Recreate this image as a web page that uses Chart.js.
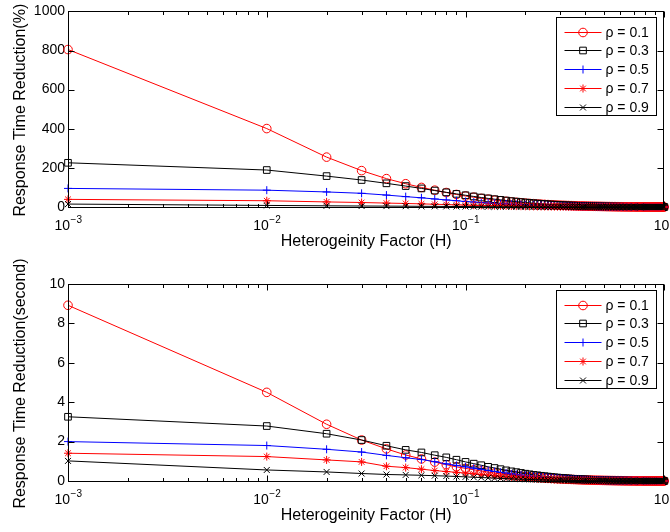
<!DOCTYPE html>
<html>
<head>
<meta charset="utf-8">
<script src="https://cdn.jsdelivr.net/npm/chart.js@4.4.1/dist/chart.umd.min.js"></script>
<style>
  body { margin: 0; background: #fff; }
  .panel { position: absolute; left: 0; width: 670px; }
</style>
</head>
<body>
<div class="panel" style="top:0;height:262px"><canvas id="pctChart" width="670" height="262"></canvas></div>
<!-- canvases are transparent, so the lower one may overlap the upper one -->
<div class="panel" style="top:236px;height:296px"><canvas id="secChart" width="670" height="296"></canvas></div>
<script>
// heterogeneity factor H (x axis, log scale)
const H = [0.001,
  0.01,0.02,0.03,0.04,0.05,0.06,0.07,0.08,0.09,0.10,
  0.11,0.12,0.13,0.14,0.15,0.16,0.17,0.18,0.19,0.20,
  0.21,0.22,0.23,0.24,0.25,0.26,0.27,0.28,0.29,0.30,
  0.31,0.32,0.33,0.34,0.35,0.36,0.37,0.38,0.39,0.40,
  0.41,0.42,0.43,0.44,0.45,0.46,0.47,0.48,0.49,0.50,
  0.51,0.52,0.53,0.54,0.55,0.56,0.57,0.58,0.59,0.60,
  0.61,0.62,0.63,0.64,0.65,0.66,0.67,0.68,0.69,0.70,
  0.71,0.72,0.73,0.74,0.75,0.76,0.77,0.78,0.79,0.80,
  0.81,0.82,0.83,0.84,0.85,0.86,0.87,0.88,0.89,0.90,
  0.91,0.92,0.93,0.94,0.95,0.96,0.97,0.98,0.99,1.00];

const rhoLabels = ['ρ = 0.1', 'ρ = 0.3', 'ρ = 0.5', 'ρ = 0.7', 'ρ = 0.9'];

// response time reduction in percent
const pctRho01 = [805,401,255,186,145,119,100,86,74,64,56,
  50,44,40,35,32,29,26,24,22,20,
  18.4,17,15.7,14.5,13.4,12.4,11.5,10.7,9.9,9.2,
  8.6,8,7.5,7,6.5,6.1,5.7,5.3,5,4.7,
  4.4,4.1,3.9,3.6,3.4,3.2,3,2.8,2.6,2.5,
  2.3,2.2,2.1,1.9,1.8,1.7,1.6,1.5,1.4,1.3,
  1.2,1.1,1.06,0.99,0.92,0.86,0.8,0.74,0.69,0.64,
  0.59,0.55,0.5,0.46,0.43,0.39,0.36,0.33,0.3,0.27,
  0.25,0.22,0.2,0.18,0.16,0.14,0.12,0.1,0.09,0.07,
  0.06,0.05,0.04,0.03,0.02,0.015,0.01,0.005,0.002,0];
const pctRho03 = [226,189,158,138,121,107,95,84,75,67,60,
  54,48.5,44,40,36.5,33,30,27.5,25,23,
  21,19.3,17.8,16.4,15.1,13.9,12.8,11.8,10.9,10.1,
  9.3,8.6,8,7.4,6.9,6.4,5.9,5.5,5.1,4.8,
  4.4,4.1,3.8,3.6,3.3,3.1,2.9,2.7,2.5,2.3,
  2.2,2,1.9,1.8,1.7,1.6,1.5,1.4,1.3,1.2,
  1.1,1.03,0.96,0.89,0.83,0.77,0.71,0.66,0.61,0.57,
  0.52,0.48,0.44,0.41,0.37,0.34,0.31,0.28,0.26,0.23,
  0.21,0.19,0.17,0.15,0.13,0.12,0.1,0.09,0.07,0.06,
  0.05,0.04,0.03,0.025,0.02,0.013,0.008,0.004,0.002,0];
const pctRho05 = [95,86,77,70,61,53,47,41,36,32,28,
  25,22.5,20.3,18.4,16.7,15.2,13.9,12.7,11.6,10.6,
  9.7,8.9,8.2,7.5,6.9,6.4,5.9,5.4,5,4.6,
  4.3,4,3.7,3.4,3.2,2.9,2.7,2.5,2.4,2.2,
  2.05,1.9,1.8,1.65,1.55,1.45,1.35,1.25,1.17,1.1,
  1.02,0.95,0.89,0.83,0.78,0.73,0.68,0.63,0.59,0.55,
  0.51,0.48,0.44,0.41,0.38,0.35,0.33,0.3,0.28,0.26,
  0.24,0.22,0.2,0.18,0.17,0.15,0.14,0.13,0.11,0.1,
  0.09,0.08,0.07,0.065,0.055,0.05,0.04,0.035,0.03,0.025,
  0.02,0.016,0.013,0.01,0.008,0.006,0.004,0.002,0.001,0];
const pctRho07 = [39,32,26,23,20,18,16,14,12.5,11,10,
  9,8.1,7.3,6.6,6,5.4,4.9,4.5,4.1,3.7,
  3.4,3.1,2.9,2.6,2.4,2.2,2.1,1.9,1.8,1.6,
  1.5,1.4,1.3,1.2,1.1,1.05,0.97,0.9,0.85,0.8,
  0.74,0.69,0.64,0.6,0.56,0.52,0.48,0.45,0.42,0.39,
  0.37,0.34,0.32,0.3,0.28,0.26,0.24,0.23,0.21,0.2,
  0.18,0.17,0.16,0.15,0.14,0.13,0.12,0.11,0.1,0.09,
  0.085,0.078,0.071,0.065,0.06,0.055,0.05,0.045,0.04,0.036,
  0.032,0.028,0.025,0.022,0.019,0.016,0.014,0.012,0.01,0.008,
  0.007,0.006,0.005,0.004,0.003,0.002,0.0015,0.001,0.0005,0];
const pctRho09 = [15,8,6,5,4.5,4,3.5,3.2,2.9,2.6,2.3,
  2.1,1.9,1.7,1.5,1.4,1.25,1.15,1.05,0.95,0.87,
  0.8,0.73,0.67,0.62,0.57,0.52,0.48,0.44,0.41,0.38,
  0.35,0.33,0.31,0.29,0.27,0.25,0.23,0.22,0.2,0.19,
  0.18,0.17,0.16,0.15,0.14,0.13,0.12,0.11,0.1,0.09,
  0.085,0.08,0.075,0.07,0.065,0.06,0.056,0.052,0.048,0.045,
  0.042,0.039,0.036,0.034,0.031,0.029,0.027,0.025,0.023,0.021,
  0.019,0.018,0.016,0.015,0.014,0.012,0.011,0.01,0.009,0.008,
  0.007,0.0065,0.006,0.005,0.0045,0.004,0.0035,0.003,0.0025,0.002,
  0.0018,0.0015,0.0012,0.001,0.0008,0.0006,0.0004,0.0002,0.0001,0];

// response time reduction in seconds
const secRho01 = [8.92,4.5,2.88,2.08,1.63,1.32,1.12,0.96,0.83,0.72,0.64,
  0.57,0.51,0.45,0.4,0.36,0.33,0.3,0.27,0.25,0.23,
  0.21,0.19,0.18,0.165,0.153,0.142,0.132,0.122,0.113,0.105,
  0.098,0.092,0.086,0.08,0.075,0.07,0.065,0.061,0.057,0.054,
  0.05,0.047,0.044,0.041,0.039,0.036,0.034,0.032,0.03,0.028,
  0.027,0.025,0.024,0.022,0.021,0.019,0.018,0.017,0.016,0.015,
  0.014,0.013,0.012,0.011,0.0105,0.0098,0.0091,0.0085,0.0079,0.0073,
  0.0067,0.0062,0.0057,0.0053,0.0049,0.0045,0.0041,0.0038,0.0034,0.0031,
  0.0028,0.0025,0.0023,0.002,0.0018,0.0016,0.0014,0.0012,0.001,0.0008,
  0.0007,0.0006,0.0005,0.0004,0.0003,0.0002,0.00015,0.0001,0.00005,0];
const secRho03 = [3.26,2.79,2.4,2.08,1.79,1.58,1.45,1.31,1.2,1.08,0.97,
  0.88,0.8,0.72,0.66,0.6,0.54,0.49,0.45,0.41,0.37,
  0.34,0.31,0.29,0.265,0.245,0.225,0.207,0.19,0.176,0.163,
  0.151,0.14,0.13,0.12,0.111,0.103,0.096,0.089,0.083,0.077,
  0.072,0.067,0.062,0.058,0.054,0.05,0.046,0.043,0.04,0.037,
  0.035,0.032,0.03,0.028,0.026,0.024,0.022,0.021,0.019,0.018,
  0.017,0.016,0.015,0.014,0.013,0.012,0.011,0.01,0.0095,0.0088,
  0.0081,0.0074,0.0068,0.0062,0.0057,0.0052,0.0047,0.0043,0.0039,0.0035,
  0.0031,0.0028,0.0025,0.0022,0.0019,0.0017,0.0015,0.0013,0.0011,0.0009,
  0.0008,0.0006,0.0005,0.0004,0.0003,0.0002,0.00015,0.0001,0.00005,0];
const secRho05 = [2,1.8,1.61,1.47,1.3,1.18,1.09,0.98,0.87,0.79,0.72,
  0.65,0.59,0.53,0.48,0.44,0.4,0.36,0.33,0.3,0.28,
  0.255,0.235,0.215,0.198,0.183,0.169,0.156,0.144,0.133,0.123,
  0.114,0.106,0.098,0.091,0.085,0.079,0.073,0.068,0.064,0.06,
  0.056,0.052,0.049,0.046,0.043,0.04,0.038,0.035,0.033,0.031,
  0.029,0.027,0.026,0.024,0.023,0.021,0.02,0.019,0.018,0.017,
  0.016,0.015,0.014,0.013,0.012,0.011,0.01,0.0095,0.0088,0.0081,
  0.0075,0.0069,0.0063,0.0058,0.0053,0.0049,0.0045,0.0041,0.0037,0.0034,
  0.0031,0.0028,0.0025,0.0022,0.002,0.0017,0.0015,0.0013,0.0011,0.0009,
  0.0008,0.0007,0.0006,0.0005,0.0004,0.0003,0.0002,0.0001,0.00005,0];
const secRho07 = [1.41,1.24,1.07,0.97,0.75,0.68,0.6,0.53,0.48,0.44,0.4,
  0.36,0.33,0.3,0.27,0.245,0.22,0.2,0.185,0.17,0.155,
  0.142,0.13,0.12,0.11,0.101,0.093,0.086,0.079,0.073,0.068,
  0.063,0.058,0.054,0.05,0.047,0.044,0.041,0.038,0.036,0.034,
  0.031,0.029,0.027,0.026,0.024,0.022,0.021,0.02,0.019,0.018,
  0.017,0.016,0.015,0.014,0.013,0.012,0.011,0.0105,0.0098,0.0092,
  0.0086,0.008,0.0075,0.007,0.0065,0.006,0.0056,0.0052,0.0048,0.0045,
  0.0042,0.0039,0.0036,0.0033,0.003,0.0028,0.0026,0.0024,0.0022,0.002,
  0.0018,0.0016,0.0014,0.0013,0.0011,0.001,0.0009,0.0008,0.0007,0.0006,
  0.0005,0.0004,0.0003,0.00025,0.0002,0.00015,0.0001,0.00006,0.00003,0];
const secRho09 = [1.02,0.56,0.46,0.38,0.33,0.31,0.29,0.27,0.25,0.23,0.21,
  0.19,0.175,0.16,0.145,0.132,0.12,0.11,0.1,0.092,0.085,
  0.078,0.072,0.066,0.061,0.056,0.052,0.048,0.044,0.041,0.038,
  0.035,0.033,0.031,0.029,0.027,0.025,0.023,0.022,0.02,0.019,
  0.018,0.017,0.016,0.015,0.014,0.013,0.012,0.011,0.0105,0.0098,
  0.0092,0.0086,0.008,0.0075,0.007,0.0065,0.006,0.0056,0.0052,0.0048,
  0.0045,0.0042,0.0039,0.0036,0.0033,0.0031,0.0029,0.0027,0.0025,0.0023,
  0.0021,0.0019,0.0018,0.0016,0.0015,0.0014,0.0013,0.0012,0.0011,0.001,
  0.0009,0.0008,0.0007,0.00065,0.0006,0.0005,0.00045,0.0004,0.00035,0.0003,
  0.00025,0.0002,0.00018,0.00015,0.00012,0.0001,0.00008,0.00005,0.00002,0];

const decadeTicks = [0.001, 0.01, 0.1, 1];
const decadeExps = ['\u22123', '\u22122', '\u22121', '0'];

const FONT = '"Liberation Sans", Arial, Helvetica, sans-serif';

// marker/colour per rho, in the same order as rhoLabels
const styles = [
  { color: '#ff0000', pointStyle: 'circle', radius: 4.3 },
  { color: '#000000', pointStyle: 'rect', radius: 4.7 },
  { color: '#0000ff', pointStyle: 'cross', radius: 4 },
  { color: '#ff0000', pointStyle: 'star', radius: 4 },
  { color: '#000000', pointStyle: 'crossRot', radius: 4.2 }
];

function buildDatasets(series) {
  return series.map((vals, i) => ({
    label: rhoLabels[i],
    data: H.map((h, j) => ({ x: h, y: vals[j] })),
    borderColor: styles[i].color,
    backgroundColor: 'rgba(0,0,0,0)',
    borderWidth: 1,
    pointStyle: styles[i].pointStyle,
    pointRadius: styles[i].radius,
    pointBorderWidth: 1,
    pointBorderColor: styles[i].color,
    pointBackgroundColor: 'rgba(0,0,0,0)',
    clip: false,
    // later rho drawn on top
    order: series.length - i
  }));
}

// box, inward ticks, log tick labels, axis titles and legend
const matlabAxes = {
  id: 'matlabAxes',
  afterDatasetsDraw(chart, args, opts) {
    const ctx = chart.ctx;
    const a = chart.chartArea;
    const xs = chart.scales.x, ys = chart.scales.y;
    const L = Math.round(a.left) + 0.5, R = Math.round(a.right) - 0.5;
    const T = Math.round(a.top) + 0.5, B = Math.round(a.bottom) + 0.5;
    ctx.save();
    ctx.strokeStyle = '#000';
    ctx.lineWidth = 1;
    ctx.beginPath();
    // x ticks, top and bottom
    for (let e = -3; e <= 0; e++) {
      const dec = Math.pow(10, e);
      const px = Math.round(xs.getPixelForValue(dec)) + 0.5;
      ctx.moveTo(px, B); ctx.lineTo(px, B - 6);
      ctx.moveTo(px, T); ctx.lineTo(px, T + 6);
      if (e < 0) {
        for (let m = 2; m <= 9; m++) {
          const p = Math.round(xs.getPixelForValue(m * dec)) + 0.5;
          ctx.moveTo(p, B); ctx.lineTo(p, B - 3.5);
          ctx.moveTo(p, T); ctx.lineTo(p, T + 3.5);
        }
      }
    }
    // y ticks, left and right
    ys.ticks.forEach(t => {
      const py = Math.round(ys.getPixelForValue(t.value)) + 0.5;
      ctx.moveTo(L, py); ctx.lineTo(L + 6, py);
      ctx.moveTo(R, py); ctx.lineTo(R - 6, py);
    });
    ctx.stroke();
    ctx.strokeRect(L, T, R - L, B - T);

    // legend box
    const lw = 100, lh = 98;
    const lx = Math.round(a.right - 8 - lw) + 0.5, ly = Math.round(a.top + 6) + 0.5;
    ctx.fillStyle = '#fff';
    ctx.fillRect(lx, ly, lw, lh);
    ctx.strokeRect(lx, ly, lw, lh);
    ctx.font = '14px ' + FONT;
    ctx.textBaseline = 'middle';
    ctx.textAlign = 'left';
    chart.data.datasets.forEach((ds, i) => {
      const ry = Math.round(ly + 14 + i * 18.8) + 0.5;
      ctx.strokeStyle = ds.borderColor;
      ctx.beginPath();
      ctx.moveTo(lx + 8, ry); ctx.lineTo(lx + 45, ry);
      ctx.stroke();
      ctx.fillStyle = 'rgba(0,0,0,0)';
      Chart.helpers.drawPoint(ctx, {
        pointStyle: ds.pointStyle, radius: ds.pointRadius, rotation: 0, borderWidth: 1
      }, lx + 26.5, ry);
      ctx.fillStyle = '#000';
      ctx.fillText(ds.label, lx + 49, ry + 1);
    });
    ctx.restore();
  },
  afterDraw(chart, args, opts) {
    const ctx = chart.ctx;
    const a = chart.chartArea;
    const xs = chart.scales.x;
    ctx.save();
    ctx.fillStyle = '#000';
    // 10^n labels under the decades
    const base = a.bottom + 23;
    decadeTicks.forEach((v, i) => {
      const px = xs.getPixelForValue(v);
      ctx.font = '14px ' + FONT;
      const w1 = ctx.measureText('10').width;
      ctx.font = '10px ' + FONT;
      const w2 = ctx.measureText(decadeExps[i]).width;
      const x0 = px - (w1 + w2) / 2;
      ctx.textAlign = 'left';
      ctx.textBaseline = 'alphabetic';
      ctx.font = '14px ' + FONT;
      ctx.fillText('10', x0, base);
      ctx.font = '10px ' + FONT;
      ctx.fillText(decadeExps[i], x0 + w1 + 0.5, base - 7);
    });
    // axis titles
    ctx.font = '16px ' + FONT;
    ctx.textAlign = 'center';
    ctx.fillText('Heterogeinity Factor (H)', (a.left + a.right) / 2, a.bottom + 39);
    ctx.translate(25, (a.top + a.bottom) / 2 + 1);
    ctx.rotate(-Math.PI / 2);
    ctx.fillText(opts.yTitle, 0, 0);
    ctx.restore();
  }
};

function makeChart(id, series, yMax, yStep, yTitle, padTop, xHeight) {
  return new Chart(document.getElementById(id), {
    type: 'line',
    data: { datasets: buildDatasets(series) },
    plugins: [matlabAxes],
    options: {
      responsive: false,
      animation: false,
      devicePixelRatio: 1,
      events: [],
      layout: { padding: { top: padTop, right: 5, left: 0, bottom: 0 } },
      plugins: {
        legend: { display: false },
        tooltip: { enabled: false },
        matlabAxes: { yTitle: yTitle }
      },
      scales: {
        x: {
          type: 'logarithmic',
          min: 0.001,
          max: 1,
          grid: { display: false, drawTicks: false },
          border: { display: false },
          ticks: { display: false },
          afterFit: s => { s.height = xHeight; }
        },
        y: {
          min: 0,
          max: yMax,
          grid: { display: false, drawTicks: false, tickLength: 0 },
          border: { display: false },
          ticks: {
            stepSize: yStep,
            padding: 3,
            color: '#000',
            font: { family: FONT, size: 14 },
            callback: v => String(v)
          },
          afterFit: s => { s.width = 68; }
        }
      }
    }
  });
}

makeChart('pctChart', [pctRho01, pctRho03, pctRho05, pctRho07, pctRho09],
  1000, 200, 'Response Time Reduction(%)', 11, 55);
makeChart('secChart', [secRho01, secRho03, secRho05, secRho07, secRho09],
  10, 2, 'Response Time Reduction(second)', 48, 51);
</script>
</body>
</html>
